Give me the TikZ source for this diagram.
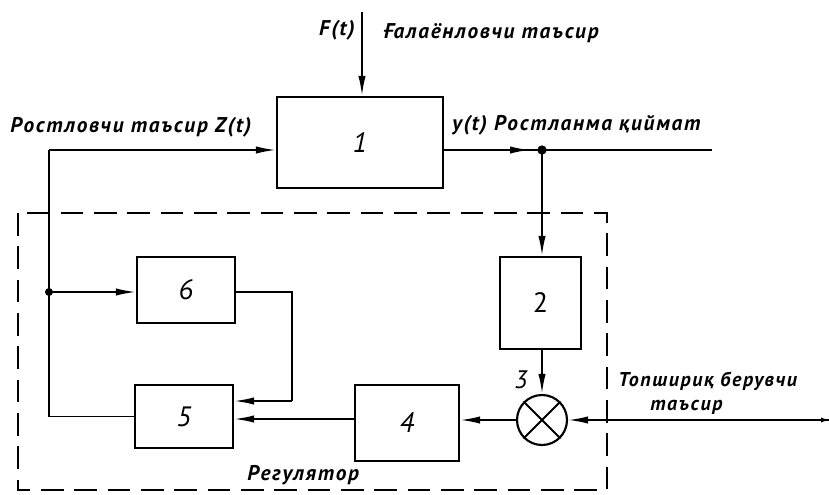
\documentclass[tikz,border=0pt]{standalone}
\usepackage{fontspec}
\setmainfont{PT Sans}
\usetikzlibrary{arrows.meta}
\begin{document}
\begin{tikzpicture}[x=0.75pt,y=-0.75pt,
  blk/.style={draw, line width=1.6pt, inner sep=0pt, font=\fontsize{21}{21}\selectfont\itshape},
  ln/.style={line width=1.4pt},
  arr/.style={ln, -{Latex[length=15pt,width=5.5pt]}},
  lbl/.style={font=\fontsize{16}{18}\selectfont\bfseries\itshape\addfontfeature{LetterSpace=8}, inner sep=0pt},
  lbls/.style={font=\fontsize{15}{17}\selectfont\bfseries\itshape\addfontfeature{LetterSpace=8}, inner sep=0pt},
  dot/.style={fill, circle, inner sep=0pt, minimum size=6pt}]
\useasboundingbox (0,0) rectangle (829,494);
% regulator frame
\draw[line width=1.8pt, dash pattern=on 17pt off 8pt] (18,213) rectangle (607,490);
% blocks
\node[blk, minimum width=124.5pt, minimum height=68.25pt] (b1) at (360,142.5) {1};
\node[blk, minimum width=73.5pt, minimum height=49.5pt] (b6) at (186,290) {6};
\node[blk, minimum width=73.5pt, minimum height=47.25pt] (b5) at (184,416.5) {5};
\node[blk, minimum width=78pt, minimum height=57pt] (b4) at (407,423) {4};
\node[blk, minimum width=60.75pt, minimum height=69pt, font=\fontsize{21}{21}\selectfont] (b2) at (540.5,303) {2};
\node[draw, circle, line width=1.6pt, minimum size=37.5pt, inner sep=0pt] (c) at (542,420) {};
\draw[line width=1.4pt] (c.north west) -- (c.south east) (c.north east) -- (c.south west);
% coordinates
\coordinate (ftop) at (362,12);
\coordinate (zc) at (49,150);
\coordinate (j) at (49,292);
\coordinate (yd) at (542,150);
\coordinate (yend) at (712,150);
\coordinate (ymid) at (530,150);
\coordinate (r6) at (292,292);
\coordinate (r6b) at (292,401);
\coordinate (uin) at (829,420);
\coordinate (uin2) at (805,420);
% connectors
\draw[arr] (ftop) -- (ftop |- b1.north);
\draw[arr] (zc) -- (zc -| b1.west);
\draw[ln] (zc) -- (j) -- (j |- b5.west) -- (b5.west);
\draw[arr] (j) -- (j -| b6.west);
\node[dot] at (j) {};
\draw[ln] (b6.east |- r6) -- (r6) -- (r6b);
\draw[arr] (r6b) -- (r6b -| b5.east);
\draw[arr] (b4.west |- 0,419) -- (b5.east |- 0,419);
\draw[arr] (c.west) -- (c.west -| b4.east);
\draw[arr] (yd |- b2.south) -- (c.north);
\draw[ln] (b1.east |- yd) -- (yend);
\draw[arr] (b1.east |- yd) -- (ymid);
\node[dot, minimum size=7pt] at (yd) {};
\draw[arr] (yd) -- (yd |- b2.north);
\draw[arr] (uin) -- (c.east);
\draw[ln, -{Latex[length=6pt,width=4pt]}] (uin2) -- (uin);
% labels
\node[lbl, anchor=east] at (355,30) {F(t)};
\node[lbl, anchor=west] at (383,33) {Ғалаёнловчи таъсир};
\node[lbl, anchor=west] at (10,127) {Ростловчи таъсир Z(t)};
\node[lbl, anchor=west] at (452,125) {y(t) Ростланма қиймат};
\node[lbls, anchor=west] at (618,381) {Топшириқ берувчи};
\node[lbls, anchor=west] at (650,407) {таъсир};
\node[font=\fontsize{19}{19}\selectfont\itshape, inner sep=0pt] at (521,380) {3};
\node[lbl, anchor=west] at (247,475) {Регулятор};
\end{tikzpicture}
\end{document}
